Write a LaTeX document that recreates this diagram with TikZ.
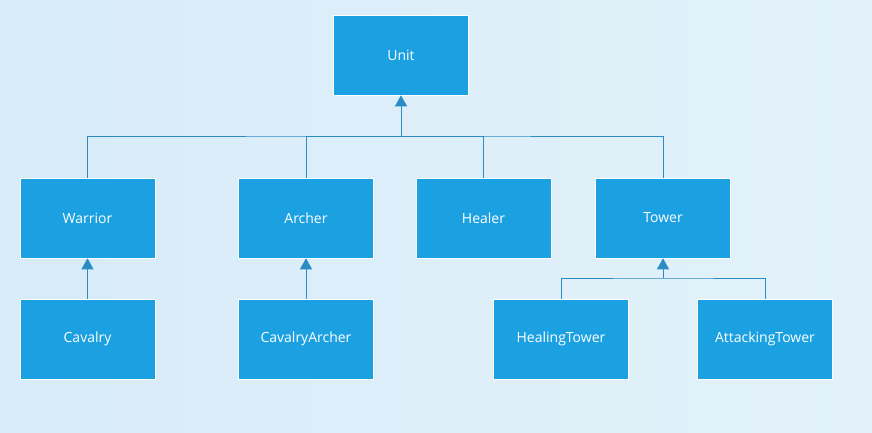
\documentclass[tikz,border=0pt]{standalone}
\usepackage{fontspec}
\setmainfont{Open Sans}
\usetikzlibrary{arrows.meta}
\definecolor{boxblue}{HTML}{1BA1E2}
\definecolor{linkblue}{HTML}{2A8CC4}
\definecolor{bgL}{HTML}{D7EBF8}
\definecolor{bgR}{HTML}{E3F2FA}
\begin{document}
\begin{tikzpicture}[x=1pt,y=-1pt,
  cls/.style={rectangle,fill=boxblue,draw=white,line width=0.6pt,minimum width=135pt,minimum height=80pt,inner sep=0pt,text=white,font=\fontsize{14}{16}\selectfont},
  link/.style={draw=linkblue,line width=0.9pt},
  inh/.style={link,-{Triangle[length=11pt,width=12pt]}}]
\shade[left color=bgL,right color=bgR] (0,0) rectangle (872,432);
\useasboundingbox (0,0) rectangle (872,432);
\node[cls] (unit) at (401,55) {Unit};
\node[cls] (warrior) at (87.5,218) {Warrior};
\node[cls] (archer) at (306,218) {Archer};
\node[cls] (healer) at (483.5,218) {Healer};
\node[cls] (tower) at (663,218) {Tower};
\node[cls] (cavalry) at (87.5,339) {Cavalry};
\node[cls] (cavarcher) at (306,339) {CavalryArcher};
\node[cls] (healtower) at (561,339) {HealingTower};
\node[cls] (atttower) at (765,339) {AttackingTower};
\coordinate (bus) at (401,136);
\coordinate (bus2) at (663,278);
\draw[link] (warrior.north) |- (bus) -| (tower.north);
\draw[link] (archer.north) |- (bus);
\draw[link] (healer.north) |- (bus);
\draw[inh] (bus) -- (unit.south);
\draw[inh] (cavalry.north) -- (warrior.south);
\draw[inh] (cavarcher.north) -- (archer.south);
\draw[link] (healtower.north) |- (bus2) -| (atttower.north);
\draw[inh] (bus2) -- (tower.south);
\end{tikzpicture}
\end{document}
